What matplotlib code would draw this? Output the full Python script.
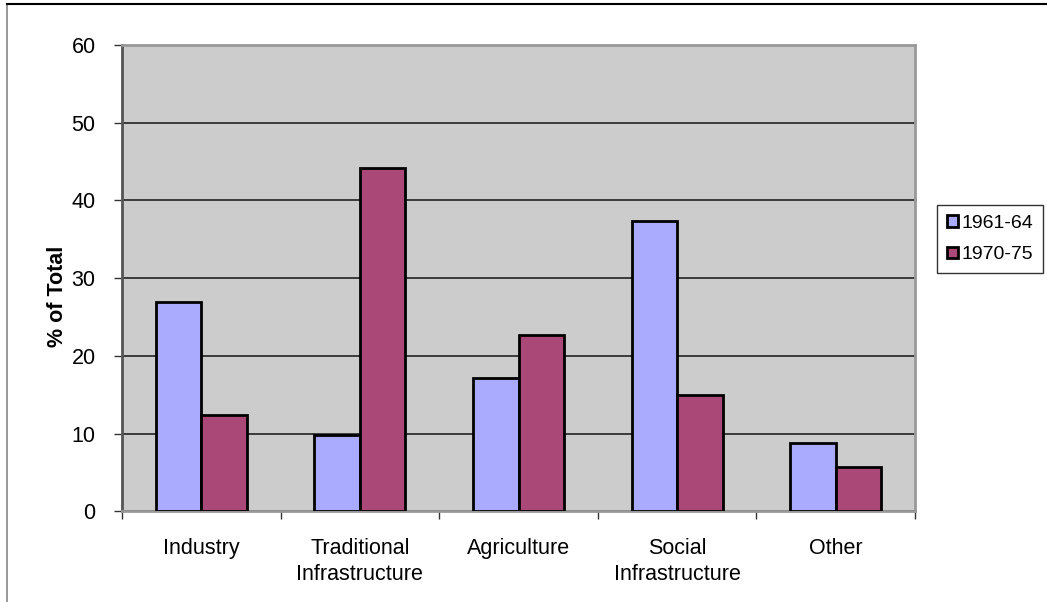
import numpy as np
import matplotlib.pyplot as plt
from matplotlib.patches import Rectangle

categories = ['Industry', 'Traditional\nInfrastructure', 'Agriculture',
              'Social\nInfrastructure', 'Other']
series_names = ['1961-64', '1970-75']
vals_1961 = [26.9, 9.8, 17.1, 37.3, 8.8]
vals_1970 = [12.4, 44.2, 22.7, 15.0, 5.7]
colors = ['#AAAAFF', '#AA4977']

plt.rcParams['font.family'] = ['Liberation Sans', 'DejaVu Sans']

fig = plt.figure(figsize=(10.47, 6.02), dpi=100)
ax = fig.add_axes([0.1165, 0.1505, 0.7575, 0.7748])

# outer chart border (right and bottom edges fall outside the image)
fig.patches.append(Rectangle((7 / 1047, -0.05), 1.2, 1 - 4 / 602 + 0.05,
                             transform=fig.transFigure, fill=False,
                             edgecolor='#888888', linewidth=1.2))
fig.add_artist(plt.Line2D([7 / 1047, 1], [1 - 4 / 602] * 2,
                          transform=fig.transFigure, color='black', linewidth=1.5))

x = np.arange(len(categories))
w = 0.287
ax.bar(x - w / 2, vals_1961, w, color=colors[0], edgecolor='black',
       linewidth=2, label=series_names[0], zorder=3)
ax.bar(x + w / 2, vals_1970, w, color=colors[1], edgecolor='black',
       linewidth=2, label=series_names[1], zorder=3)

ax.set_facecolor('#CCCCCC')
ax.set_xlim(-0.5, len(categories) - 0.5)
ax.set_ylim(0, 60)
ax.set_yticks(range(0, 61, 10))
ax.yaxis.grid(True, color='#222222', linewidth=1.2, zorder=1)
ax.set_axisbelow(True)

ax.set_xticks(x)
ax.set_xticklabels(categories, fontsize=15.5, linespacing=1.35)
ax.set_xticks(np.arange(-0.5, len(categories), 1), minor=True)
ax.tick_params(axis='x', which='major', length=0, pad=19)
ax.tick_params(axis='x', which='minor', length=6, width=1, color='#333333', direction='out')
ax.tick_params(axis='y', length=6, width=1, color='#333333', labelsize=15.5, pad=13)

for s in ['top', 'right', 'bottom']:
    ax.spines[s].set_color('#999999')
    ax.spines[s].set_linewidth(2)
ax.spines['left'].set_color('#555555')
ax.spines['left'].set_linewidth(2)

ax.set_ylabel('% of Total', fontsize=15.5, fontweight='bold')
ax.yaxis.set_label_coords(-0.068, 0.462)

leg = ax.legend(loc='upper left', bbox_to_anchor=(1.028, 0.657), fontsize=14,
                frameon=True, fancybox=False, edgecolor='black',
                handlelength=0.55, handleheight=0.55, handletextpad=0.2,
                borderpad=0.5, labelspacing=0.75, borderaxespad=0)
leg.get_frame().set_linewidth(1)

fig.savefig('out.png', dpi=100)
